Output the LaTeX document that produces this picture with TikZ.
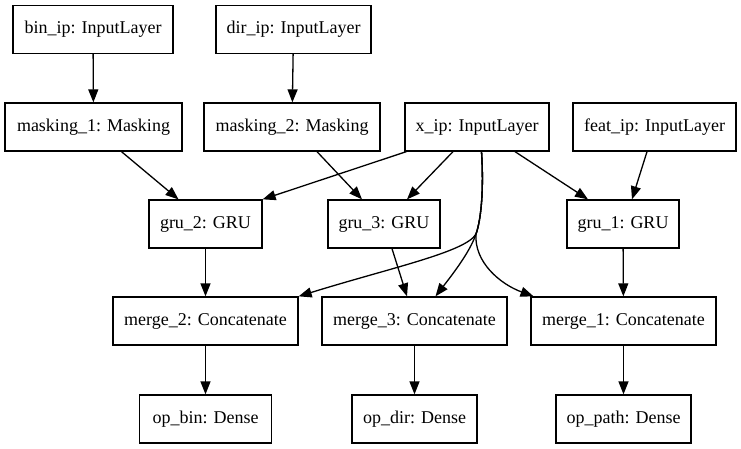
\documentclass[tikz,border=0pt]{standalone}
\usepackage{fontspec}
\setmainfont{Liberation Serif}
\usetikzlibrary{arrows.meta}
\begin{document}
\begin{tikzpicture}[x=1pt,y=-1pt,
  box/.style={draw, line width=1.3pt, minimum height=48pt, inner sep=0pt, font=\fontsize{18}{20}\selectfont},
  edge/.style={line width=1.3pt, -{Triangle[length=13pt,width=10pt]}}]
\useasboundingbox (0,0) rectangle (741,449);
% row 1
\node[box, minimum width=160pt] (binip) at (93,29.5) {bin\_ip: InputLayer};
\node[box, minimum width=155pt] (dirip) at (293.5,29.5) {dir\_ip: InputLayer};
% row 2
\node[box, minimum width=177pt] (mask1) at (93.5,127) {masking\_1: Masking};
\node[box, minimum width=176pt] (mask2) at (292,127) {masking\_2: Masking};
\node[box, minimum width=144pt] (xip) at (477,127) {x\_ip: InputLayer};
\node[box, minimum width=163pt] (featip) at (654.5,127) {feat\_ip: InputLayer};
% row 3
\node[box, minimum width=113pt] (gru2) at (205.5,224) {gru\_2: GRU};
\node[box, minimum width=112pt] (gru3) at (384,224) {gru\_3: GRU};
\node[box, minimum width=112pt] (gru1) at (623,224) {gru\_1: GRU};
% row 4
\node[box, minimum width=185pt] (merge2) at (205.5,321) {merge\_2: Concatenate};
\node[box, minimum width=185pt] (merge3) at (414.5,321) {merge\_3: Concatenate};
\node[box, minimum width=185pt] (merge1) at (623.5,321) {merge\_1: Concatenate};
% row 5
\node[box, minimum width=132pt] (opbin) at (205.5,419) {op\_bin: Dense};
\node[box, minimum width=125pt] (opdir) at (414.5,419) {op\_dir: Dense};
\node[box, minimum width=135pt] (oppath) at (623.5,419) {op\_path: Dense};
% edges
\draw[edge] (binip) -- (mask1);
\draw[edge] (dirip) -- (mask2);
\draw[edge] ([xshift=28pt]mask1.south) -- ([xshift=-27pt]gru2.north);
\draw[edge] ([xshift=25pt]mask2.south) -- ([xshift=-22pt]gru3.north);
\draw[edge] ([xshift=2pt]xip.south west) -- (gru2.north east);
\draw[edge] ([xshift=-24pt]xip.south) -- ([xshift=23pt]gru3.north);
\draw[edge] ([xshift=38pt]xip.south) -- ([xshift=-35pt]gru1.north);
\draw[edge] ([xshift=-7.5pt]featip.south) -- ([xshift=9pt]gru1.north);
\draw[edge] ([xshift=4.5pt]xip.south) .. controls (484,190) and (481,220) .. (476,234)
  .. controls (466,252) and (390,268) .. (merge2.north east);
\draw[edge] ([xshift=4.5pt]xip.south) .. controls (484,190) and (481,220) .. (476,234)
  .. controls (470,252) and (452,275) .. ([xshift=21pt]merge3.north);
\draw[edge] ([xshift=4.5pt]xip.south) .. controls (484,190) and (481,220) .. (476,234)
  .. controls (474,262) and (500,284) .. ([xshift=-90pt]merge1.north);
\draw[edge] (gru2) -- (merge2);
\draw[edge] ([xshift=8pt]gru3.south) -- ([xshift=-7.5pt]merge3.north);
\draw[edge] (gru1) -- (merge1);
\draw[edge] (merge2) -- (opbin);
\draw[edge] (merge3) -- (opdir);
\draw[edge] (merge1) -- (oppath);
\end{tikzpicture}
\end{document}
